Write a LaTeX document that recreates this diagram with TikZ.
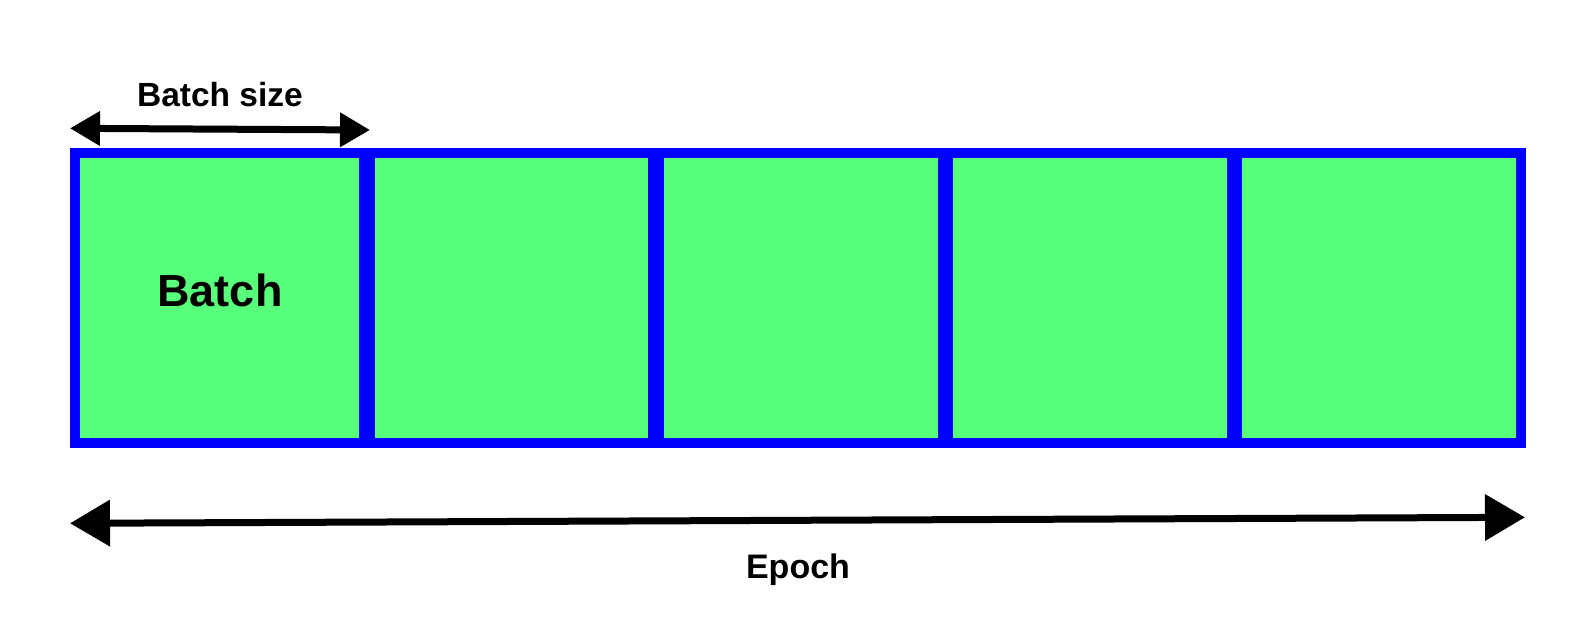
\documentclass[tikz,border=0pt]{standalone}
\usepackage{fontspec}
\setmainfont{Liberation Sans}
\usetikzlibrary{arrows.meta}
\definecolor{cellgreen}{RGB}{87,255,122}
\definecolor{cellblue}{RGB}{0,0,255}
\tikzset{
  cell/.style={draw=cellblue, fill=cellgreen, line width=10pt, minimum width=289.2pt, minimum height=290pt, inner sep=0pt, anchor=center},
  smallarrow/.style={line width=7pt, {Triangle[length=30pt,width=33pt]}-{Triangle[length=30pt,width=33pt]}},
  bigarrow/.style={line width=7pt, {Triangle[length=40pt,width=45pt]}-{Triangle[length=40pt,width=45pt]}},
  lbl/.style={font=\bfseries, text=black, inner sep=0pt, anchor=base}
}
\begin{document}
\begin{tikzpicture}[x=1pt,y=-1pt]
\useasboundingbox (0,0) rectangle (1596,621);
\fill[white] (0,0) rectangle (1596,621);
% cells
\foreach \i/\n in {0/c1,1/c2,2/c3,3/c4,4/c5}{
  \node[cell] (\n) at ({75+289.2*(\i+0.5)},298) {};
}
\foreach \a/\b in {c1/c2,c2/c3,c3/c4,c4/c5}{
  \draw[cellblue, line width=11pt] (\a.north east) -- (\a.south east);
}
\node[lbl, font=\bfseries\fontsize{45}{54}\selectfont] (batch) at (220,306.5) {Batch};
% batch size arrow
\coordinate (bsL) at (70,128.3);
\coordinate (bsR) at (370,130);
\draw[smallarrow] (bsL) -- (bsR);
\node[lbl, font=\bfseries\fontsize{33.5}{40}\selectfont] (bs) at (220,106.5) {Batch size};
% epoch arrow
\coordinate (epL) at (70,523.3);
\coordinate (epR) at (1525,517.3);
\draw[bigarrow] (epL) -- (epR);
\node[lbl, font=\bfseries\fontsize{34}{40}\selectfont] (ep) at (798,578.3) {Epoch};
\end{tikzpicture}
\end{document}
